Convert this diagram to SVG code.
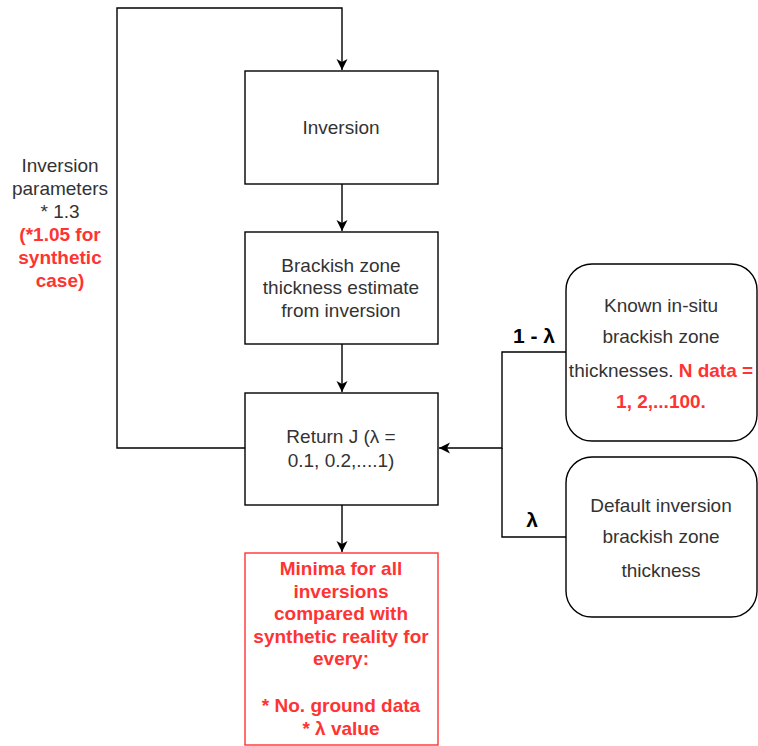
<svg xmlns="http://www.w3.org/2000/svg" width="758" height="746" viewBox="0 0 758 746">
<defs>
<marker id="arr" markerWidth="12" markerHeight="12" refX="11" refY="6" orient="auto" markerUnits="userSpaceOnUse">
<path d="M0,0.5 L11,6 L0,11.5 L3,6 Z" fill="#000"/>
</marker>
<style>
.box{fill:#fff;stroke:#000;stroke-width:1.4}
.rbox{fill:#fff;stroke:#ff3333;stroke-width:1.4}
.t{font-family:"Liberation Sans",Arial,sans-serif;font-size:19px;fill:#333;text-anchor:middle}
.red{fill:#ff3333;font-weight:bold}
.lbl{font-family:"Liberation Sans",Arial,sans-serif;font-size:21px;font-weight:bold;fill:#000;text-anchor:middle}
.c{fill:none;stroke:#000;stroke-width:1.4}
</style>
</defs>
<rect width="758" height="746" fill="#fff"/>
<g id="connectors">
<path class="c" d="M245,448 H117 V8 H342 V70" marker-end="url(#arr)"/>
<path class="c" d="M342,184 V231" marker-end="url(#arr)"/>
<path class="c" d="M342,344 V392" marker-end="url(#arr)"/>
<path class="c" d="M342,505 V552" marker-end="url(#arr)"/>
<path class="c" d="M566,352 H502 V448 H439" marker-end="url(#arr)"/>
<path class="c" d="M566,537 H502 V448"/>
<text class="lbl" x="534" y="343">1 - λ</text>
<text class="lbl" x="532" y="527">λ</text>
</g>
<g id="loop-label">
<text class="t" x="60" y="172">Inversion</text>
<text class="t" x="60" y="195">parameters</text>
<text class="t" x="60" y="218">* 1.3</text>
<text class="t red" x="60" y="241">(*1.05 for</text>
<text class="t red" x="60" y="264">synthetic</text>
<text class="t red" x="60" y="287">case)</text>
</g>
<g id="inversion">
<rect class="box" x="245" y="71" width="193" height="113"/>
<text class="t" x="341" y="134">Inversion</text>
</g>
<g id="estimate">
<rect class="box" x="245" y="232" width="193" height="112"/>
<text class="t" x="341" y="272">Brackish zone</text>
<text class="t" x="341" y="294">thickness estimate</text>
<text class="t" x="341" y="317">from inversion</text>
</g>
<g id="return">
<rect class="box" x="245" y="393" width="193" height="112"/>
<text class="t" x="341" y="443">Return J (λ =</text>
<text class="t" x="341" y="467">0.1, 0.2,....1)</text>
</g>
<g id="minima">
<rect class="rbox" x="245" y="553" width="193" height="192"/>
<text class="t red" x="341" y="575">Minima for all</text>
<text class="t red" x="341" y="598">inversions</text>
<text class="t red" x="341" y="620">compared with</text>
<text class="t red" x="341" y="643">synthetic reality for</text>
<text class="t red" x="341" y="665">every:</text>
<text class="t red" x="341" y="712">* No. ground data</text>
<text class="t red" x="341" y="735">* λ value</text>
</g>
<g id="known">
<rect class="box" x="566" y="264" width="191" height="177" rx="26" ry="26"/>
<text class="t" x="661" y="312">Known in-situ</text>
<text class="t" x="661" y="343">brackish zone</text>
<text class="t" x="661" y="377">thicknesses. <tspan class="red">N data =</tspan></text>
<text class="t red" x="661" y="408">1, 2,...100.</text>
</g>
<g id="default">
<rect class="box" x="566" y="457" width="191" height="160" rx="26" ry="26"/>
<text class="t" x="661" y="512">Default inversion</text>
<text class="t" x="661" y="543">brackish zone</text>
<text class="t" x="661" y="577">thickness</text>
</g>
</svg>
